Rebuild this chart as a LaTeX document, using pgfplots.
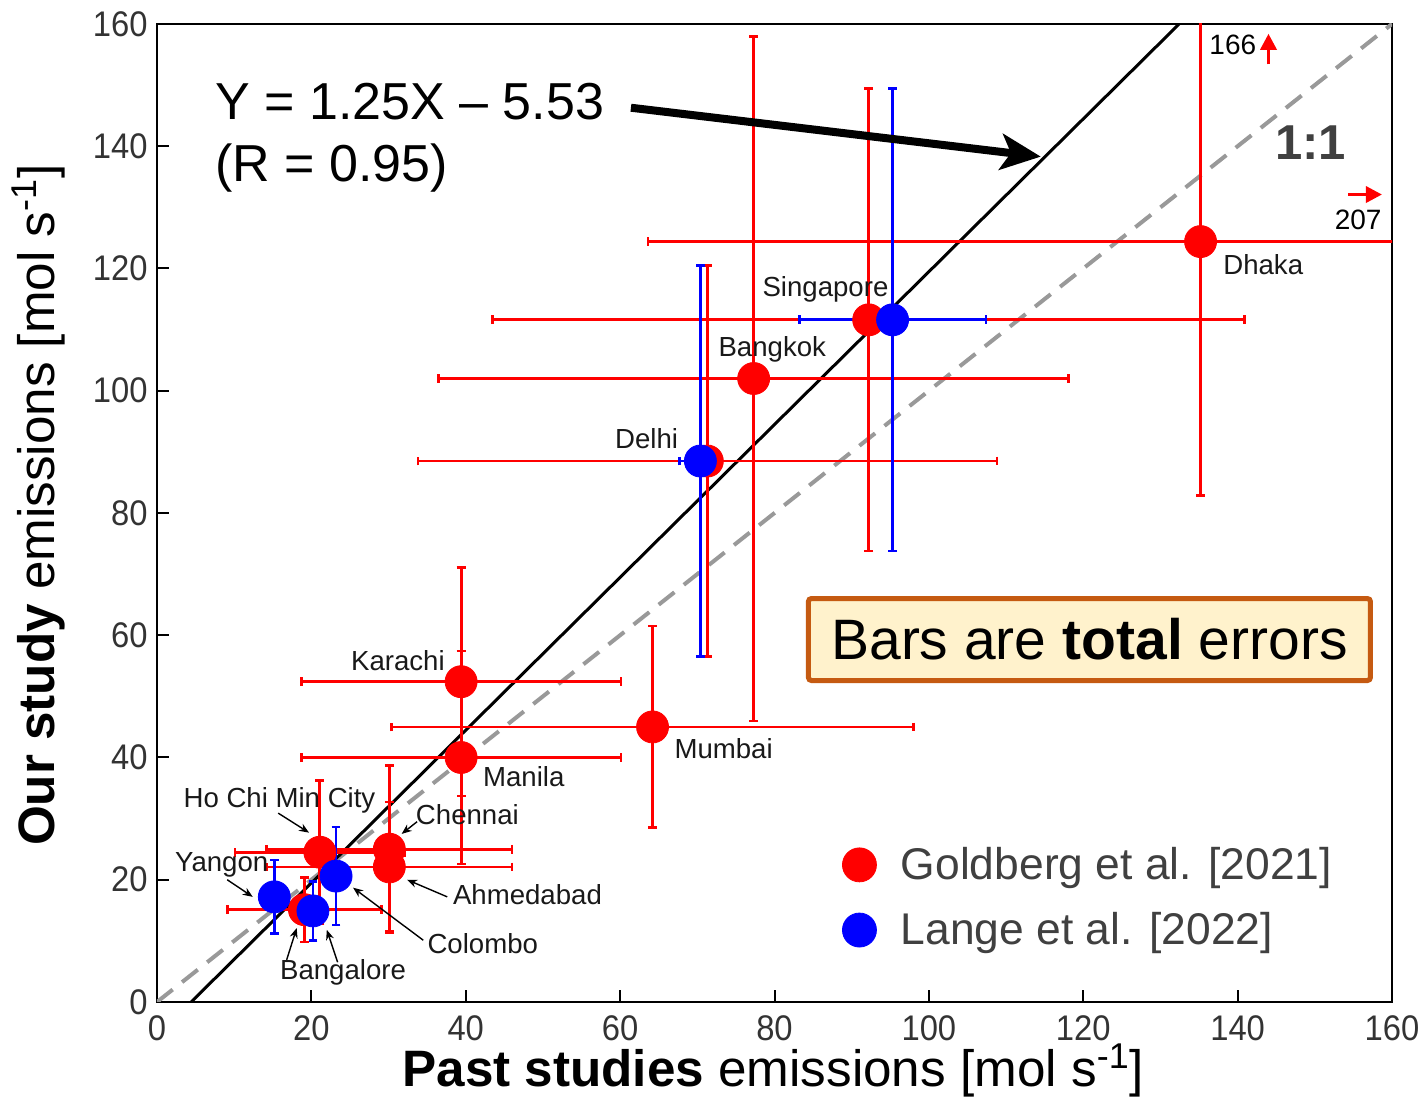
\documentclass[border=0pt]{standalone}
\usepackage{fontspec}
\setmainfont{Liberation Sans}
\newfontfamily\tickfont[FakeStretch=0.92]{Liberation Sans}
\usepackage{pgfplots}
\pgfplotsset{compat=1.18}
\usetikzlibrary{arrows.meta}
\definecolor{boxborder}{HTML}{C55A11}
\definecolor{boxfill}{HTML}{FFF2CC}
\definecolor{onegray}{HTML}{999999}
\definecolor{txtgray}{HTML}{404040}
\begin{document}
\begin{tikzpicture}
\begin{axis}[
  scale only axis, width=617.5pt, height=489pt,
  xmin=0, xmax=160, ymin=0, ymax=160,
  xtick={0,20,...,160}, ytick={0,20,...,160},
  xtick pos=bottom, ytick pos=left, tick align=inside,
  major tick length=6pt,
  every tick/.style={black, line width=1pt},
  axis line style={line width=1.4pt},
  /pgf/number format/assume math mode=true,
  tick label style={font=\tickfont\fontsize{17.8}{18}\selectfont, text=black!80, inner sep=0pt},
  xticklabel style={anchor=north, yshift=-6.5pt},
  yticklabel style={anchor=east, xshift=-4.5pt},
  xlabel={\textbf{Past studies} emissions [mol s\textsuperscript{-1}]},
  ylabel={\textbf{Our study} emissions [mol s\textsuperscript{-1}]},
  label style={font=\fontsize{25.6}{28}\selectfont, inner sep=0pt},
  xlabel style={at={(axis description cs:0.499,-0.0869)}, anchor=base},
  ylabel style={at={(axis description cs:-0.0826,0.508)}, anchor=base},
  legend style={at={(axis cs:88.7,17.1)}, anchor=west, draw=none, fill=none,
    font=\fontsize{22.2}{24}\selectfont, text=txtgray, row sep=15pt, inner sep=0pt,
    cells={anchor=west}, nodes={inner sep=0pt},
    /tikz/every odd column/.append style={column sep=12pt}},
]
% 1:1 line and fit line
\addplot[onegray, line width=2pt, dash pattern=on 10pt off 6pt, forget plot] coordinates {(0,0) (160,160)};
\addplot[black, line width=1.5pt, forget plot] coordinates {(4.424,0) (132.42,160)};

% Goldberg et al. [2021]
\addplot[only marks, mark=*, mark size=8pt, red, mark options={red},
  legend image code/.code={\fill[red] (8.5pt,0pt) circle (8.5pt);},
  error bars/.cd, x dir=both, x explicit, y dir=both, y explicit,
  error bar style={line width=1.4pt, red},
  error mark options={rotate=90, line width=1.3pt, mark size=2.2pt, draw=red}]
  table[x=x, y=y, x error=ex, y error=ey] {
city x y ex ey
Dhaka 135.2 124.4 71.6 41.5
Singapore 92.2 111.6 48.7 37.8
Bangkok 77.3 102.0 40.8 56.0
Delhi 71.3 88.5 37.5 32.0
Karachi 39.4 52.4 20.7 18.7
Manila 39.4 40.0 20.7 17.4
Mumbai 64.2 45.0 33.8 16.5
Chennai 30.1 25.0 15.9 13.7
Ahmedabad 30.1 22.1 15.9 10.6
HCMC 21.1 24.5 11.0 11.7
Bangalore 19.1 15.1 10.0 5.3
};
\addlegendentry{Goldberg et al. [2021]}

% Lange et al. [2022]
\addplot[only marks, mark=*, mark size=8pt, blue, mark options={blue},
  legend image code/.code={\fill[blue] (8.5pt,0pt) circle (8.5pt);},
  error bars/.cd, x dir=both, x explicit, y dir=both, y explicit,
  error bar style={line width=1.4pt, blue},
  error mark options={rotate=90, line width=1.3pt, mark size=2.2pt, draw=blue}]
  table[x=x, y=y, x error=ex, y error=ey] {
city x y ex ey
Singapore 95.3 111.6 12.1 37.8
Delhi 70.4 88.5 2.7 32.0
Colombo 23.2 20.6 0 8.0
Bangalore 20.2 14.9 0 4.8
Yangon 15.2 17.2 0 6.0
};
\addlegendentry{Lange et al. [2022]}

% equation and arrow
\node[anchor=base west, inner sep=0, font=\fontsize{26}{26}\selectfont] at (axis cs:7.5,144.4) {Y = 1.25X – 5.53};
\node[anchor=base west, inner sep=0, font=\fontsize{26}{26}\selectfont] at (axis cs:7.5,134.2) {(R = 0.95)};
\draw[line width=4pt, -{Stealth[length=20pt, width=18pt, inset=5pt]}] (axis cs:61.4,146.3) -- (axis cs:114.5,138.3);

% 1:1
\node[anchor=base west, inner sep=0, text=txtgray, font=\bfseries\fontsize{24.5}{24.5}\selectfont] at (axis cs:144.8,137.8) {1:1};

% off-scale markers
\node[anchor=base west, inner sep=0, font=\fontsize{14}{14}\selectfont] at (axis cs:136.3,155.0) {166};
\draw[red, line width=1.7pt, -{Triangle[length=8pt, width=8pt]}] (axis cs:144.0,153.4) -- (axis cs:144.0,158.4);
\node[anchor=base east, inner sep=0, font=\fontsize{14}{14}\selectfont] at (axis cs:158.7,126.4) {207};
\draw[red, line width=1.7pt, -{Triangle[length=8pt, width=8pt]}] (axis cs:154.3,132.1) -- (axis cs:158.7,132.1);

% box
\node[draw=boxborder, fill=boxfill, line width=2.5pt, rounded corners=1.5pt, minimum width=281pt, minimum height=41pt, inner sep=0pt, font=\fontsize{28.5}{28.5}\selectfont] at (axis cs:120.8,59.3) {Bars are \textbf{total} errors};

% city labels
\begin{scope}[every node/.style={anchor=base west, inner sep=0pt, font=\fontsize{13.8}{14}\selectfont, text=black!90}]
\node at (axis cs:138.1,119.0) {Dhaka};
\node at (axis cs:78.4,115.4) {Singapore};
\node at (axis cs:72.7,105.6) {Bangkok};
\node at (axis cs:59.3,90.5) {Delhi};
\node at (axis cs:25.1,54.3) {Karachi};
\node at (axis cs:67.0,39.9) {Mumbai};
\node at (axis cs:42.2,35.2) {Manila};
\node at (axis cs:3.4,31.9) {Ho Chi Min City};
\node at (axis cs:33.5,29.0) {Chennai};
\node at (axis cs:2.3,21.3) {Yangon};
\node at (axis cs:38.3,15.9) {Ahmedabad};
\node at (axis cs:35.0,8.0) {Colombo};
\node at (axis cs:15.9,3.6) {Bangalore};
\end{scope}

% leader arrows
\begin{scope}[line width=0.7pt, -{Stealth[length=5pt, width=4pt]}]
\draw (axis cs:15.7,30.9) -- (axis cs:19.7,27.7);
\draw (axis cs:33.7,29.5) -- (axis cs:31.7,27.5);
\draw (axis cs:9.1,20.0) -- (axis cs:12.4,17.2);
\draw (axis cs:37.6,17.2) -- (axis cs:32.4,20.0);
\draw (axis cs:34.5,10.1) -- (axis cs:25.4,18.7);
\draw (axis cs:16.8,6.9) -- (axis cs:18.1,12.1);
\draw (axis cs:23.4,6.5) -- (axis cs:22.0,11.8);
\end{scope}
\end{axis}
\pgfresetboundingbox
\useasboundingbox ([xshift=-78.5pt,yshift=-57.5pt]current axis.south west) rectangle ([xshift=14pt,yshift=12pt]current axis.north east);
\end{tikzpicture}
\end{document}
